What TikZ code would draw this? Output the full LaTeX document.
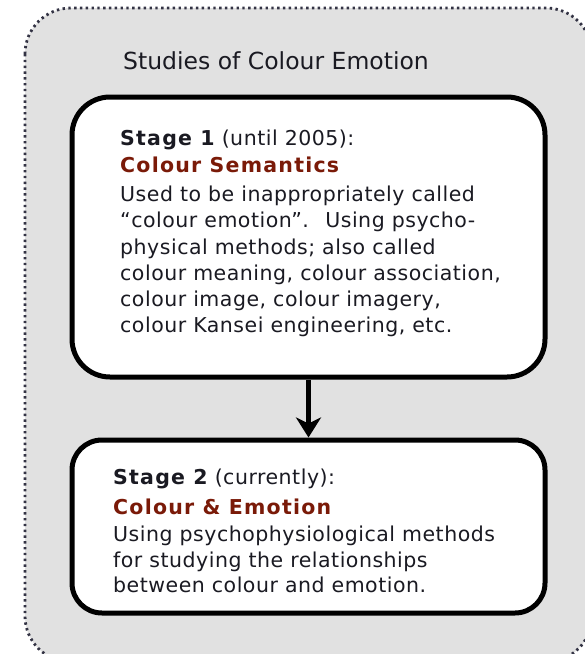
\documentclass[tikz,border=0pt]{standalone}
\usepackage{fontspec}
\setmainfont{DejaVu Sans}
\usetikzlibrary{arrows.meta}
\definecolor{bggray}{HTML}{E1E1E1}
\definecolor{dotcol}{HTML}{333344}
\definecolor{txt}{HTML}{1A1A22}
\definecolor{headred}{HTML}{7A1A08}
\tikzset{
  outerbox/.style={draw=dotcol, fill=bggray, line width=2.8pt, dash pattern=on 2.4pt off 3.4pt, rounded corners=46pt},
  stagebox/.style={draw=black, fill=white, line width=5pt, rectangle, inner sep=0pt},
  txtline/.style={anchor=base west, inner sep=0pt, text=txt, font=\fontsize{20.5}{24}\selectfont\addfontfeature{LetterSpace=2.5}},
  headline/.style={anchor=base west, inner sep=0pt, text=headred, font=\fontsize{20.5}{24}\selectfont\bfseries\addfontfeature{LetterSpace=6}},
  flow/.style={draw=black, line width=5pt, -{Stealth[length=20pt,width=25pt,inset=6pt]}}
}
\newcommand{\stg}[1]{{\bfseries\addfontfeature{LetterSpace=6}#1}}
\begin{document}
\begin{tikzpicture}[x=1pt,y=-1pt]
\useasboundingbox (0,0) rectangle (585,654);
\begin{scope}
\clip (0,0) rectangle (585,654);
\draw[outerbox] (25,8) rectangle (592,662);
\end{scope}
\node[anchor=base, inner sep=0pt, text=txt, font=\fontsize{23.5}{28}\selectfont] (title) at (276,69) {Studies of Colour Emotion};
% box 1
\node[stagebox, rounded corners=38pt, minimum width=473pt, minimum height=280pt] (b1) at (308.5,237) {};
\node[txtline] (s1) at (120,145) {\stg{Stage 1} (until 2005):};
\node[headline] (h1) at (120,172) {Colour Semantics};
\node[txtline] (l11) at (120,201) {Used to be inappropriately called};
\node[txtline] (l12) at (120,227) {“colour emotion”. \ Using psycho-};
\node[txtline] (l13) at (120,254) {physical methods; also called};
\node[txtline] (l14) at (120,280) {colour meaning, colour association,};
\node[txtline] (l15) at (120,306) {colour image, colour imagery,};
\node[txtline] (l16) at (120,332) {colour Kansei engineering, etc.};
% box 2
\node[stagebox, rounded corners=30pt, minimum width=473pt, minimum height=173pt] (b2) at (308.5,526.5) {};
\node[txtline] (s2) at (113,484) {\stg{Stage 2} (currently):};
\node[headline] (h2) at (113,514) {Colour \& Emotion};
\node[txtline] (l21) at (113,541) {Using psychophysiological methods};
\node[txtline] (l22) at (113,567) {for studying the relationships};
\node[txtline] (l23) at (113,592) {between colour and emotion.};
\draw[flow] (b1.south) -- (b2.north);
\end{tikzpicture}
\end{document}
